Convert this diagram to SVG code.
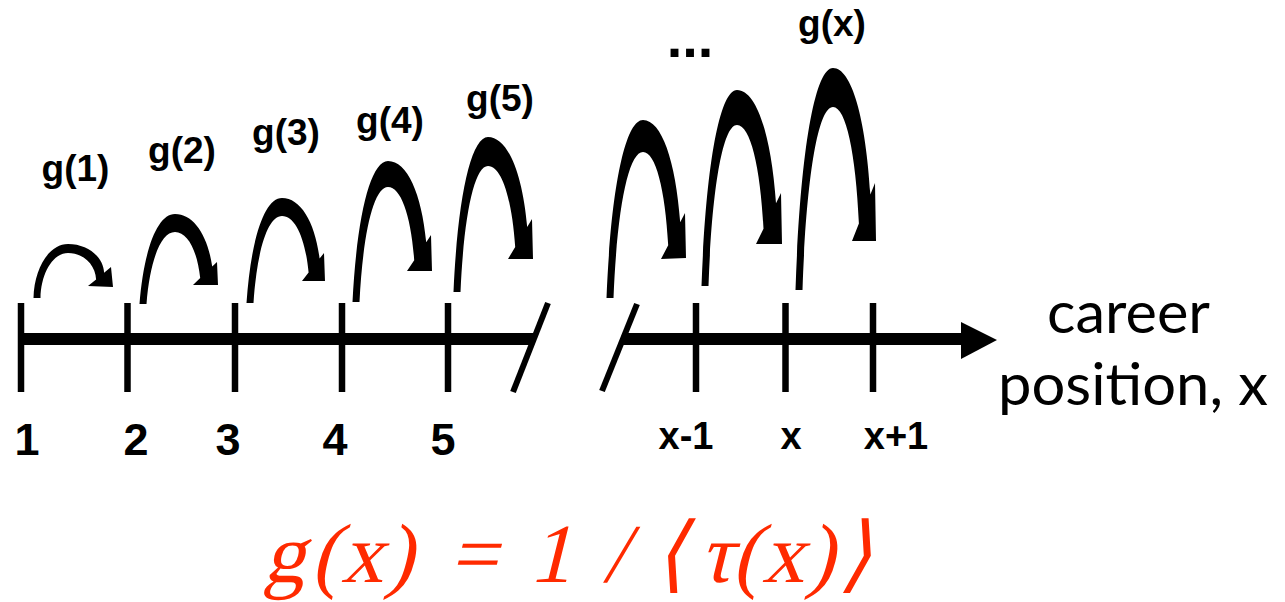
<svg xmlns="http://www.w3.org/2000/svg" width="1285" height="602" viewBox="0 0 1285 602">
<style>
.lbl{font-family:"Liberation Sans",Arial,sans-serif;font-weight:bold;fill:#000;text-anchor:middle}
.g{font-size:37px}
.num{font-size:45px}
.xl{font-size:38px}
.tick{stroke:#000;stroke-width:6.5;fill:none}
.slash{stroke:#000;stroke-width:6;fill:none}
.arc{fill:#000;stroke:none}
.cap{font-family:Lato,"Open Sans",sans-serif;font-size:58px;fill:#000;text-anchor:middle}
</style>
<rect width="1285" height="602" fill="#fff"/>
<g id="axis">
<polygon points="18,333 536,333 531,345 18,345" fill="#000"/>
<polygon points="625,333 961,333 961,345 620.5,345" fill="#000"/>
<polygon points="961,322 997,340 961,359" fill="#000"/>
<line class="slash" x1="548" y1="303" x2="513" y2="392"/>
<line class="slash" x1="637" y1="304" x2="602" y2="391"/>
<line class="tick" x1="21" y1="303" x2="21" y2="392"/>
<line class="tick" x1="127.5" y1="303" x2="127.5" y2="392"/>
<line class="tick" x1="235" y1="303" x2="235" y2="392"/>
<line class="tick" x1="342" y1="303" x2="342" y2="392"/>
<line class="tick" x1="448" y1="303" x2="448" y2="392"/>
<line class="tick" x1="696" y1="303" x2="696" y2="392"/>
<line class="tick" x1="785.5" y1="303" x2="785.5" y2="392"/>
<line class="tick" x1="873" y1="303" x2="873" y2="392"/>
</g>
<g id="ticklabels">
<text class="lbl num" x="27" y="455">1</text>
<text class="lbl num" x="136" y="455">2</text>
<text class="lbl num" x="228" y="455">3</text>
<text class="lbl num" x="335" y="455">4</text>
<text class="lbl num" x="443" y="455">5</text>
<text class="lbl xl" x="686" y="449">x-1</text>
<text class="lbl xl" x="791" y="449">x</text>
<text class="lbl xl" x="896" y="449">x+1</text>
</g>
<g id="axis-title">
<text class="cap" x="1128.5" y="333" textLength="163" lengthAdjust="spacingAndGlyphs">career</text>
<text class="cap" x="1133" y="405" textLength="270" lengthAdjust="spacingAndGlyphs">position, x</text>
</g>
<g id="jumps">
<path id="jump1" class="arc" d="M33.5,298 C34.2,268.3 49,244 68,244 C87.9,244 103.4,256.9 104.1,272.7 L111,267 L113,287 L88,286 L96.1,279.4 C95.5,264.9 83.5,253 68,253 C52.9,253 41,273.2 40.5,298 Z"/>
<path id="jump2" class="arc" d="M139.5,304 C143.8,250 157.2,214 175,214 C193.6,214 207.7,235 212.2,266.6 L217,262 L218,285 L193,285 L200.2,278.1 C197.2,250.4 187.6,232 175,232 C160.7,232 149.9,260.8 146.5,304 Z"/>
<path id="jump3" class="arc" d="M246.5,303 C250.8,240 264.2,198 282,198 C300.8,198 315.1,222.2 319.6,258.6 L324,253 L325,281 L302,281 L308.6,272.6 C305.4,238.6 295.3,216 282,216 C267.7,216 256.9,250.8 253.5,303 Z"/>
<path id="jump4" class="arc" d="M352.5,302 C356.8,217.4 370.2,161 388,161 C407.1,161 421.6,193.5 426.2,242.2 L431,235 L432,271 L407,271 L414.2,260.2 C411.1,216.3 401.1,187 388,187 C373.7,187 362.9,233 359.5,302 Z"/>
<path id="jump5" class="arc" d="M453.5,292 C457.6,199 470.7,137 488,137 C507.6,137 522.5,173 527.2,227 L532,219 L533,259 L508,259 L515.2,247 C511.9,198.4 501.6,166 488,166 C474.2,166 463.8,216.4 460.5,292 Z"/>
<path id="jump6" class="arc" d="M606.5,298 C610.9,191.2 624.7,120 643,120 C661.6,120 675.7,160.9 680.2,222.2 L685,213 L686,258 L661,259 L668.2,245.2 C665.2,189.3 655.6,152 643,152 C628.2,152 617,210.4 613.5,298 Z"/>
<path id="jump7" class="arc" d="M701.5,286 C705.8,168.4 719.2,90 737,90 C756.5,90 771.3,135.3 776,203.2 L781,193 L782,244 L756,244 L763.5,228.7 C760.3,166.5 750.3,125 737,125 C722.7,125 711.9,189.4 708.5,286 Z"/>
<path id="jump8" class="arc" d="M795.5,290 C800,156.8 814.2,68 833,68 C851.7,68 865.9,118.6 870.4,194.6 L875,183 L876,241 L852,241 L858.9,223.6 C855.8,153.6 846,107 833,107 C817.7,107 806.2,180.2 802.5,290 Z"/>
</g>
<g id="jumplabels">
<text class="lbl g" x="75.5" y="181">g(1)</text>
<text class="lbl g" x="182" y="163">g(2)</text>
<text class="lbl g" x="286" y="145">g(3)</text>
<text class="lbl g" x="390" y="133">g(4)</text>
<text class="lbl g" x="500" y="111">g(5)</text>
<text class="lbl g" x="832" y="36">g(x)</text>
<text class="lbl" x="690" y="57" style="font-size:56px">...</text>
</g>
<g id="formula" transform="translate(0,582) skewX(-14) translate(0,-582)">
<text font-family="'Liberation Serif', 'Times New Roman', serif" font-style="normal" font-size="84" fill="#ff2a00" text-anchor="middle" y="582"><tspan x="284">g</tspan><tspan x="325">(</tspan><tspan x="362">x</tspan><tspan x="399">)</tspan><tspan x="473">=</tspan><tspan x="550">1</tspan><tspan x="615">/</tspan><tspan x="670">⟨</tspan><tspan x="716">τ</tspan><tspan x="746">(</tspan><tspan x="783">x</tspan><tspan x="820">)</tspan><tspan x="855">⟩</tspan></text>
</g>
</svg>
